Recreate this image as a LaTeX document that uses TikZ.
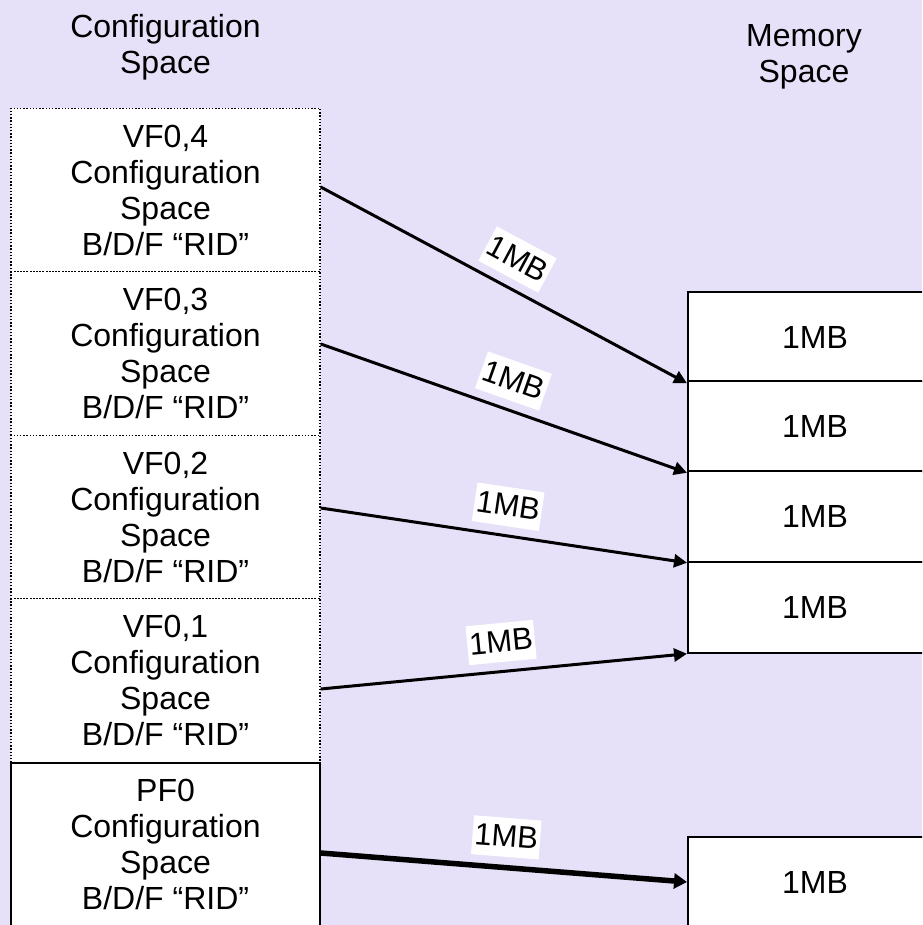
\documentclass[tikz,border=0pt]{standalone}
\usepackage{fontspec}
\setmainfont{Liberation Sans}
\usetikzlibrary{arrows.meta}
\definecolor{bg}{RGB}{230,224,249}
\begin{document}
\begin{tikzpicture}[x=1pt,y=-1pt,
  every node/.style={font=\fontsize{32}{36}\selectfont, align=center},
  vfbox/.style={draw, fill=white, line width=1.4pt, dash pattern=on 1.4pt off 1.8pt,
    minimum width=309pt, minimum height=163.5pt, inner sep=0pt},
  pfbox/.style={draw, fill=white, line width=1.6pt,
    minimum width=309pt, minimum height=163.5pt, inner sep=0pt},
  mbox/.style={draw, fill=white, line width=2pt,
    minimum width=254pt, minimum height=90.5pt, inner sep=0pt},
  conn/.style={line width=3pt, -{Triangle[length=13pt,width=13pt]}},
  thickconn/.style={line width=5.5pt, -{Triangle[length=13pt,width=15pt]}},
  lbl/.style={midway, sloped, above=8pt, fill=white, inner xsep=2pt, inner ysep=6pt,
    text height=23pt, text depth=4pt, font=\fontsize{31}{36}\selectfont}
]
\useasboundingbox (0,0) rectangle (922,925);
\clip (0,0) rectangle (922,925);
\fill[bg] (0,0) rectangle (922,925);

\node (hcfg) at (165.5,47) {Configuration\\Space};
\node (hmem) at (804,57) {Memory\\Space};

\node[vfbox] (vf4) at (165.5,190) {VF0,4\\Configuration\\Space\\B/D/F “RID”};
\node[vfbox] (vf3) at (165.5,353.5) {VF0,3\\Configuration\\Space\\B/D/F “RID”};
\node[vfbox] (vf2) at (165.5,517) {VF0,2\\Configuration\\Space\\B/D/F “RID”};
\node[vfbox] (vf1) at (165.5,680.5) {VF0,1\\Configuration\\Space\\B/D/F “RID”};
\node[pfbox] (pf0) at (165.5,844.5) {PF0\\Configuration\\Space\\B/D/F “RID”};

\node[mbox] (m4) at (815,337) {1MB};
\node[mbox] (m3) at (815,426.5) {1MB};
\node[mbox] (m2) at (815,516.5) {1MB};
\node[mbox] (m1) at (815,607.5) {1MB};
\node[mbox] (mp) at (815,882) {1MB};

\draw[conn] ([yshift=3pt]vf4.east) -- (m4.south west) node[lbl] {1MB};
\draw[conn] ([yshift=9.5pt]vf3.east) -- (m3.south west) node[lbl] {1MB};
\draw[conn] ([yshift=9pt]vf2.east) -- (m2.south west) node[lbl] {1MB};
\draw[conn] ([yshift=-8.5pt]vf1.east) -- (m1.south west) node[lbl] {1MB};
\draw[thickconn] ([yshift=-8.5pt]pf0.east) -- (mp.west) node[lbl] {1MB};
\end{tikzpicture}
\end{document}
